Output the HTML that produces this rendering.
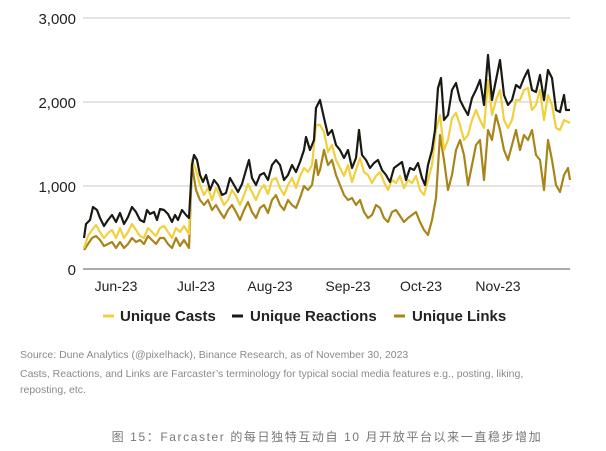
<!DOCTYPE html><html><head><style>body{margin:0;background:#fff;width:606px;height:451px;overflow:hidden;font-family:"Liberation Sans","Noto Sans CJK SC",sans-serif}</style></head><body>
<svg width="606" height="451" xmlns="http://www.w3.org/2000/svg" style="position:absolute;left:0;top:0">
<g stroke="#d4d4d4" stroke-width="1.3"><line x1="83" x2="570" y1="18" y2="18"/><line x1="83" x2="570" y1="102" y2="102"/><line x1="83" x2="570" y1="186" y2="186"/></g>
<line x1="83" x2="570" y1="269" y2="269" stroke="#777" stroke-width="1.3"/>
<g font-size="15" fill="#222" text-anchor="end"><text x="76" y="24">3,000</text><text x="76" y="108">2,000</text><text x="76" y="192">1,000</text><text x="76" y="275">0</text></g>
<g font-size="14" fill="#222" text-anchor="middle"><text x="116" y="291">Jun-23</text><text x="196" y="291">Jul-23</text><text x="270" y="291">Aug-23</text><text x="348" y="291">Sep-23</text><text x="421" y="291">Oct-23</text><text x="498" y="291">Nov-23</text></g>
<g fill="none" stroke-width="2.2" stroke-linejoin="round">
<polyline stroke="#a88519" points="84,250 88,244 92,238 96,236 100,240 104,246 108,244 112,242 116,248 120,242 124,248 128,244 132,238 136,242 140,240 144,244 148,236 152,240 156,244 160,238 164,238 168,244 172,248 176,238 180,246 184,240 189,248 192,165 196,190 200,200 204,205 208,200 212,210 216,205 220,212 224,218 228,210 232,205 236,212 240,220 244,210 248,202 252,212 256,218 260,208 264,205 268,213 272,200 276,195 280,205 284,210 288,200 292,205 296,208 300,198 304,186 308,190 312,185 316,160 318,175 320,170 324,150 328,165 332,160 336,175 340,185 344,195 348,200 352,198 356,205 360,200 364,212 368,218 372,215 376,205 380,208 384,218 388,222 392,212 396,210 400,216 404,222 408,218 412,215 416,212 420,222 424,230 428,235 432,220 436,198 440,135 444,160 448,190 452,175 456,150 460,140 464,155 468,185 472,165 476,145 480,140 484,180 488,130 492,140 496,115 500,130 504,150 508,160 512,145 516,130 520,150 524,135 528,140 532,130 536,155 540,160 544,190 548,140 552,160 556,185 560,192 564,175 568,168 570,180"/>
<polyline stroke="#f2cf3c" points="84,248 88,236 92,230 96,225 100,232 104,238 108,233 112,230 116,238 120,228 124,238 128,232 132,224 136,230 140,236 144,238 148,228 152,232 156,236 160,228 164,226 168,232 172,238 176,228 180,232 184,226 189,234 192,160 196,170 200,185 204,195 208,188 212,200 216,188 220,196 224,205 228,200 232,190 236,196 240,205 244,195 248,184 252,192 256,200 260,190 264,185 268,194 272,180 276,178 280,188 284,195 288,185 292,178 296,188 300,176 304,168 308,172 312,165 316,125 320,125 324,132 328,152 332,145 336,160 340,168 344,176 348,165 352,182 356,170 360,158 364,172 368,175 372,183 376,176 380,172 384,182 388,190 392,180 396,183 400,176 404,188 408,180 412,183 416,176 420,190 424,195 428,180 432,165 436,130 440,115 444,150 448,140 452,118 456,113 460,125 464,140 468,135 472,120 476,110 480,120 484,128 488,80 492,115 496,100 500,90 504,120 508,128 512,120 516,100 520,100 524,90 528,88 532,110 536,105 540,90 544,120 548,95 552,105 556,128 560,130 564,120 568,122 570,123"/>
<polyline stroke="#1a1a14" points="84,238 86,224 90,220 93,207 97,210 100,218 104,226 108,220 112,215 116,222 120,213 124,224 128,217 132,207 136,212 140,220 144,222 147,210 150,214 154,212 157,220 160,209 164,210 168,214 172,222 175,215 178,220 182,210 186,215 189,218 192,165 194,155 197,160 200,175 203,182 206,175 210,190 214,180 218,185 222,195 226,193 230,178 234,185 238,192 242,184 246,170 249,160 252,178 256,185 260,175 264,173 268,180 272,165 276,160 280,165 284,180 288,175 292,165 296,172 300,162 304,150 306,137 310,150 314,140 316,108 320,100 324,118 328,135 332,130 336,145 340,150 344,158 348,150 352,168 356,158 359,130 362,155 366,160 370,168 374,163 378,160 382,170 386,175 390,182 394,168 398,165 402,162 406,180 410,168 414,170 418,163 422,178 425,185 428,165 432,150 435,130 438,88 441,78 444,120 448,115 452,90 456,83 460,100 464,108 468,115 472,98 476,90 480,80 484,105 488,55 492,100 496,80 500,60 504,95 508,105 512,100 516,85 520,88 524,78 528,70 532,90 536,92 540,75 544,100 548,70 552,78 556,110 560,112 564,95 566,110 570,110"/>
</g>
<g stroke-width="3"><line x1="103" x2="114" y1="316" y2="316" stroke="#f2cf3c"/><line x1="232" x2="243" y1="316" y2="316" stroke="#1a1a14"/><line x1="394" x2="405" y1="316" y2="316" stroke="#a88519"/></g>
<g font-size="15" fill="#222" font-weight="bold"><text x="120" y="321">Unique Casts</text><text x="250" y="321">Unique Reactions</text><text x="412" y="321">Unique Links</text></g>
<g font-size="10.5" fill="#8a8a8a"><text x="20" y="358">Source: Dune Analytics (@pixelhack), Binance Research, as of November 30, 2023</text><text x="20" y="377">Casts, Reactions, and Links are Farcaster’s terminology for typical social media features e.g., posting, liking,</text><text x="20" y="393">reposting, etc.</text></g>
<text x="327" y="441" font-size="12" fill="#777" text-anchor="middle" letter-spacing="1.6">图 15：Farcaster 的每日独特互动自 10 月开放平台以来一直稳步增加</text>
</svg></body></html>
